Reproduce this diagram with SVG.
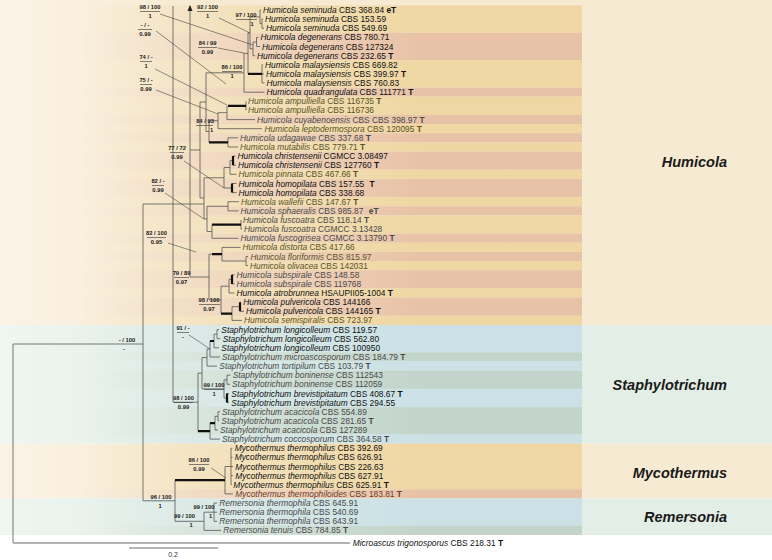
<svg xmlns="http://www.w3.org/2000/svg" width="772" height="560" viewBox="0 0 772 560">
<defs>
<linearGradient id="gY" gradientUnits="userSpaceOnUse" x1="80" y1="0" x2="420" y2="0"><stop offset="0" stop-color="#efd7a3" stop-opacity="0"/><stop offset="1" stop-color="#efd7a3"/></linearGradient>
<linearGradient id="gS" gradientUnits="userSpaceOnUse" x1="80" y1="0" x2="420" y2="0"><stop offset="0" stop-color="#e8c2a7" stop-opacity="0"/><stop offset="1" stop-color="#e8c2a7"/></linearGradient>
<linearGradient id="gB" gradientUnits="userSpaceOnUse" x1="80" y1="0" x2="420" y2="0"><stop offset="0" stop-color="#cbe1e6" stop-opacity="0"/><stop offset="1" stop-color="#cbe1e6"/></linearGradient>
<linearGradient id="gG" gradientUnits="userSpaceOnUse" x1="80" y1="0" x2="420" y2="0"><stop offset="0" stop-color="#c2d4cb" stop-opacity="0"/><stop offset="1" stop-color="#c2d4cb"/></linearGradient>
<linearGradient id="fade" gradientUnits="userSpaceOnUse" x1="0" y1="0" x2="200" y2="0"><stop offset="0" stop-color="#fff" stop-opacity="0.45"/><stop offset="1" stop-color="#fff" stop-opacity="0"/></linearGradient>
<marker id="arr" markerUnits="userSpaceOnUse" markerWidth="6" markerHeight="6" refX="5" refY="3" orient="auto"><path d="M0,0.5 L6,3 L0,5.5 z" fill="#222"/></marker>
</defs>
<style>
.t{font-family:"Liberation Sans",Arial,sans-serif;font-size:8.4px}
.i{font-style:italic}
.bd{font-weight:bold}
.k{fill:#111}
.g{fill:#4a4a4a}
.o{fill:#5b5326}
.r{fill:#6a3d30}
.s{font-family:"Liberation Sans",Arial,sans-serif;font-size:5.8px;font-weight:bold;fill:#222;text-anchor:middle}
.b{stroke:#555;stroke-width:0.8;fill:none}
.bk{stroke:#111;stroke-width:2.2;fill:none}
.ld{stroke:#444;stroke-width:0.6;fill:none}
.rule{stroke:#333;stroke-width:0.6}
.clade{font-family:"Liberation Sans",Arial,sans-serif;font-size:14.5px;font-weight:bold;font-style:italic;fill:#1a1a1a;text-anchor:end}
</style>

<g id="background">
<rect x="0" y="0" width="772" height="560" fill="#ffffff"/>
<rect x="0" y="0" width="772" height="325" fill="#f7ead2"/>
<rect x="0" y="325" width="772" height="118.6" fill="#e3eee6"/>
<rect x="0" y="443.6" width="772" height="54.8" fill="#f7ead2"/>
<rect x="0" y="498.4" width="772" height="36.6" fill="#e3eee6"/>
<rect x="0" y="0" width="200" height="535" fill="url(#fade)"/>
</g>

<g id="stripes">
<rect x="0" y="5.4" width="582" height="27.4" fill="url(#gY)"/>
<rect x="0" y="32.8" width="582" height="27.4" fill="url(#gS)"/>
<rect x="0" y="60.2" width="582" height="27.4" fill="url(#gY)"/>
<rect x="0" y="87.6" width="582" height="9.1" fill="url(#gS)"/>
<rect x="0" y="96.7" width="582" height="18.3" fill="url(#gY)"/>
<rect x="0" y="115.0" width="582" height="9.1" fill="url(#gS)"/>
<rect x="0" y="124.1" width="582" height="9.1" fill="url(#gY)"/>
<rect x="0" y="133.2" width="582" height="9.2" fill="url(#gS)"/>
<rect x="0" y="142.4" width="582" height="9.1" fill="url(#gY)"/>
<rect x="0" y="151.5" width="582" height="18.2" fill="url(#gS)"/>
<rect x="0" y="169.7" width="582" height="9.2" fill="url(#gY)"/>
<rect x="0" y="178.9" width="582" height="18.2" fill="url(#gS)"/>
<rect x="0" y="197.1" width="582" height="9.2" fill="url(#gY)"/>
<rect x="0" y="206.3" width="582" height="9.1" fill="url(#gS)"/>
<rect x="0" y="215.4" width="582" height="18.3" fill="url(#gY)"/>
<rect x="0" y="233.7" width="582" height="9.1" fill="url(#gS)"/>
<rect x="0" y="242.8" width="582" height="9.1" fill="url(#gY)"/>
<rect x="0" y="251.9" width="582" height="9.1" fill="url(#gS)"/>
<rect x="0" y="261.0" width="582" height="9.2" fill="url(#gY)"/>
<rect x="0" y="270.2" width="582" height="18.2" fill="url(#gS)"/>
<rect x="0" y="288.4" width="582" height="9.2" fill="url(#gY)"/>
<rect x="0" y="297.6" width="582" height="18.2" fill="url(#gS)"/>
<rect x="0" y="315.8" width="582" height="9.2" fill="url(#gY)"/>
<rect x="0" y="325.0" width="582" height="27.4" fill="url(#gB)"/>
<rect x="0" y="352.4" width="582" height="9.1" fill="url(#gG)"/>
<rect x="0" y="361.5" width="582" height="9.1" fill="url(#gB)"/>
<rect x="0" y="370.6" width="582" height="18.3" fill="url(#gG)"/>
<rect x="0" y="388.9" width="582" height="18.2" fill="url(#gB)"/>
<rect x="0" y="407.1" width="582" height="27.4" fill="url(#gG)"/>
<rect x="0" y="434.5" width="582" height="9.1" fill="url(#gB)"/>
<rect x="0" y="443.6" width="582" height="45.7" fill="url(#gY)"/>
<rect x="0" y="489.3" width="582" height="9.1" fill="url(#gS)"/>
<rect x="0" y="498.4" width="582" height="27.4" fill="url(#gB)"/>
<rect x="0" y="525.8" width="582" height="9.2" fill="url(#gG)"/>
</g>

<g id="connectors">
<path class="b" d="M13,344 V543 M13,344 H143 M143,204 V500.8 M143,204 H204 M143,500.8 H175"/>
<path class="b" d="M173,402.2 V6 M190,277 V6" marker-end="url(#arr)"/>
<path class="b" d="M173,402.2 H198 M190,277 H209 M190,150 H200 M200,102 V198 M200,102 H206 M200,198 H204"/>
<!-- top Humicola -->
<path class="b" d="M262,19.1 V28.3 M262,19.1 H263 M262,28.3 H264 M260,10 V23.7 M260,10 H261 M260,23.7 H262 M256.5,37.4 V46.5 M256.5,37.4 H258.5 M256.5,46.5 H260 M253,42 V55.7 M253,42 H256.5 M253,55.7 H255 M250,16.9 V48.8 M250,16.9 H260 M250,48.8 H253 M262,64.8 V83 M262,64.8 H263 M262,73.9 H264 M262,83 H264.5 M248,32.8 V73.9 M248,32.8 H250 M244,53.4 V92.2 M244,53.4 H248 M244,92.2 H264.5 M206,72.8 V131.5 M206,72.8 H244 M206,131.5 H209"/>
<path class="bk" d="M248,73.9 H262"/>
<path class="b" d="M246,101.3 V110.4 M227,105.9 V119.6 M227,119.6 H255 M218,112.7 V128.7 M218,112.7 H227 M218,128.7 H262 M228,137.8 V147 M228,137.8 H238 M228,147 H238 M209,120.7 V142.4 M209,120.7 H218"/>
<path class="bk" d="M228,105.9 H246 M209,142.4 H228"/>
<!-- middle Humicola -->
<path class="b" d="M233,156.1 H235.5 M233,165.2 H236 M230,160.7 V174.3 M230,160.7 H233 M230,174.3 H236.5 M232,183.5 H236.5 M232,192.6 H236.5 M224,167.5 V188 M224,167.5 H230 M224,188 H232 M228,201.7 V210.9 M228,201.7 H239 M228,210.9 H238.5 M241,220 V229.1 M241,229.1 H242 M212,224.6 V238.3 M212,238.3 H238.5 M207,206.3 V231.5 M207,206.3 H228 M207,231.5 H212 M204,177.8 V218.9 M204,177.8 H224 M204,218.9 H207"/>
<path class="bk" d="M233,156.1 V165.2 M232,183.5 V192.6 M212,224.6 H241"/>
<!-- lower Humicola -->
<path class="b" d="M246,256.5 V265.6 M246,256.5 H248 M246,265.6 H248 M222,247.4 V261 M222,247.4 H240.5 M222,261 H246 M232,274.8 H234.5 M232,283.9 H234.5 M229,279.3 V293 M229,279.3 H232 M229,293 H234.5 M240,302.2 H241 M240,311.3 H244 M232,306.7 V320.4 M232,306.7 H240 M232,320.4 H242 M221,286.2 V313.6 M221,286.2 H229 M209,254.2 V299.9 M209,254.2 H212 M209,299.9 H221"/>
<path class="bk" d="M212,254.2 H222 M232,274.8 V283.9 M240,302.2 V311.3 M221,313.6 H232"/>
<!-- Staphylotrichum -->
<path class="b" d="M217,329.6 V338.7 M217,329.6 H219 M217,338.7 H220.5 M214,334.2 V347.8 M214,334.2 H217 M214,347.8 H219 M210,341 V357 M210,357 H220 M207,349 V366.1 M207,349 H210 M207,366.1 H217 M227,375.2 V384.3 M227,375.2 H230.5 M227,384.3 H230 M227,393.5 H229 M227,402.6 H229 M224,379.8 V398 M224,379.8 H227 M224,398 H227 M202,357.5 V388.9 M202,357.5 H207 M202,388.9 H224 M218,411.7 V420.9 M218,411.7 H220 M218,420.9 H219 M215,416.3 V430 M215,416.3 H218 M215,430 H218 M210,423.2 V439.1 M210,439.1 H220 M198,373.2 V431.1 M198,373.2 H202"/>
<path class="bk" d="M210,341 H214 M227,393.5 V402.6 M210,423.2 H215 M198,431.1 H210"/>
<!-- Mycothermus & Remersonia -->
<path class="b" d="M231,448.2 V484.8 M231,448.2 H232.5 M231,457.4 H232.5 M231,466.5 H233 M231,475.6 H233 M231,484.8 H231.5 M225,466.5 V493.9 M225,466.5 H231 M225,493.9 H233 M175,480.2 V521.3 M175,521.3 H204 M214,503 V521.3 M214,503 H217 M214,512.2 H217 M214,521.3 H217 M204,512.2 V530.4 M204,512.2 H214 M204,530.4 H221"/>
<path class="bk" d="M175,480.2 H225"/>
<path d="M13,543 H350" stroke="#9a9a9a" stroke-width="1.6" fill="none"/>
<path d="M129,548 H218" stroke="#444" stroke-width="0.8"/>
</g>

<g id="support">
<text class="s" x="150" y="9">98 / 100</text><line class="rule" x1="140" y1="11.5" x2="160" y2="11.5"/><text class="s" x="150" y="18">1</text><path class="ld" d="M160,14 L253,45"/>
<text class="s" x="207.5" y="9">92 / 100</text><line class="rule" x1="197" y1="11.5" x2="218" y2="11.5"/><text class="s" x="207.5" y="18">1</text><path class="ld" d="M219,18 L250,33"/>
<text class="s" x="246" y="17">97 / 100</text><line class="rule" x1="236" y1="19.5" x2="257" y2="19.5"/><text class="s" x="252" y="26">1</text>
<text class="s" x="145" y="27">- / -</text><line class="rule" x1="138" y1="29.5" x2="152" y2="29.5"/><text class="s" x="145" y="35.5">0.99</text><path class="ld" d="M156,31 L226,84"/>
<text class="s" x="207.5" y="45">84 / 99</text><line class="rule" x1="198" y1="47.5" x2="217" y2="47.5"/><text class="s" x="207.5" y="54">0.99</text><path class="ld" d="M218,48 L244,53"/>
<text class="s" x="146" y="59">74 / -</text><line class="rule" x1="140" y1="61.5" x2="152" y2="61.5"/><text class="s" x="146" y="68">1</text><path class="ld" d="M155,69 L227,105"/>
<text class="s" x="232" y="69">86 / 100</text><line class="rule" x1="222" y1="71.5" x2="242" y2="71.5"/><text class="s" x="232" y="78">1</text>
<text class="s" x="146" y="82">75 / -</text><line class="rule" x1="140" y1="84.5" x2="152" y2="84.5"/><text class="s" x="146" y="91">0.99</text><path class="ld" d="M156,90 L218,114"/>
<text class="s" x="205" y="123">84 / 93</text><line class="rule" x1="196" y1="125.5" x2="213" y2="125.5"/><text class="s" x="211.5" y="132">1</text>
<text class="s" x="177" y="150">77 / 72</text><line class="rule" x1="170" y1="152.5" x2="184" y2="152.5"/><text class="s" x="177" y="159">0.99</text><path class="ld" d="M184,161 L224,188"/>
<text class="s" x="158" y="183">82 / -</text><line class="rule" x1="152" y1="185.5" x2="164" y2="185.5"/><text class="s" x="158" y="192">0.99</text><path class="ld" d="M165,193 L204,219"/>
<text class="s" x="156.5" y="235">82 / 100</text><line class="rule" x1="147" y1="237.5" x2="166" y2="237.5"/><text class="s" x="156.5" y="244">0.95</text><path class="ld" d="M168,243 L196,252"/>
<text class="s" x="181.5" y="275">79 / 89</text><line class="rule" x1="174" y1="277.5" x2="189" y2="277.5"/><text class="s" x="181.5" y="284">0.97</text>
<text class="s" x="209" y="302">98 / 100</text><line class="rule" x1="199" y1="304.5" x2="220" y2="304.5"/><text class="s" x="209" y="311">0.97</text>
<text class="s" x="183" y="330">91 / -</text><line class="rule" x1="177" y1="332.5" x2="189" y2="332.5"/><text class="s" x="183" y="339">-</text><path class="ld" d="M189,335 L210,349"/>
<text class="s" x="214" y="387">99 / 100</text><line class="rule" x1="204" y1="389.5" x2="224" y2="389.5"/><text class="s" x="214" y="396">1</text>
<text class="s" x="183.5" y="400">98 / 100</text><line class="rule" x1="174" y1="402.5" x2="193" y2="402.5"/><text class="s" x="183.5" y="409">0.99</text>
<text class="s" x="199" y="462">86 / 100</text><line class="rule" x1="189" y1="464.5" x2="209" y2="464.5"/><text class="s" x="199" y="471">0.99</text><path class="ld" d="M211,468 L226,478"/>
<text class="s" x="127" y="342">- / 100</text><text class="s" x="124" y="351">-</text>
<text class="s" x="161" y="499">96 / 100</text><text class="s" x="160" y="508">1</text>
<text class="s" x="204" y="509">99 / 100</text><text class="s" x="210.5" y="518">1</text>
<text class="s" x="184.5" y="518">99 / 100</text><text class="s" x="191" y="527">1</text>
</g>

<g id="taxa" class="t">
<text class="k" x="263" y="13"><tspan class="i">Humicola seminuda</tspan> CBS 368.84 <tspan class="bd">eT</tspan></text>
<text class="k" x="265" y="22.1"><tspan class="i">Humicola seminuda</tspan> CBS 153.59</text>
<text class="k" x="266" y="31.3"><tspan class="i">Humicola seminuda</tspan> CBS 549.69</text>
<text class="k" x="260.5" y="40.4"><tspan class="i">Humicola degenerans</tspan> CBS 780.71</text>
<text class="k" x="262" y="49.5"><tspan class="i">Humicola degenerans</tspan> CBS 127324</text>
<text class="k" x="257" y="58.7"><tspan class="i">Humicola degenerans</tspan> CBS 232.65 <tspan class="bd">T</tspan></text>
<text class="k" x="265" y="67.8"><tspan class="i">Humicola malaysiensis</tspan> CBS 669.82</text>
<text class="k" x="266" y="76.9"><tspan class="i">Humicola malaysiensis</tspan> CBS 399.97 <tspan class="bd">T</tspan></text>
<text class="k" x="266.5" y="86"><tspan class="i">Humicola malaysiensis</tspan> CBS 760.83</text>
<text class="k" x="266.5" y="95.2"><tspan class="i">Humicola quadrangulata</tspan> CBS 111771 <tspan class="bd">T</tspan></text>
<text class="o" x="248" y="104.3"><tspan class="i">Humicola ampulliella</tspan> CBS 116735 <tspan class="bd">T</tspan></text>
<text class="o" x="248" y="113.4"><tspan class="i">Humicola ampulliella</tspan> CBS 116736</text>
<text class="g" x="257" y="122.6"><tspan class="i">Humicola cuyabenoensis</tspan> CBS CBS 398.97 <tspan class="bd">T</tspan></text>
<text class="o" x="264.5" y="131.7"><tspan class="i">Humicola leptodermospora</tspan> CBS 120095 <tspan class="bd">T</tspan></text>
<text class="g" x="240" y="140.8"><tspan class="i">Humicola udagawae</tspan> CBS 337.68 <tspan class="bd">T</tspan></text>
<text class="o" x="240" y="150"><tspan class="i">Humicola mutabilis</tspan> CBS 779.71 <tspan class="bd">T</tspan></text>
<text class="k" x="237.5" y="159.1"><tspan class="i">Humicola christensenii</tspan> CGMCC 3.08497</text>
<text class="k" x="238" y="168.2"><tspan class="i">Humicola christensenii</tspan> CBS 127760 <tspan class="bd">T</tspan></text>
<text class="o" x="238.5" y="177.3"><tspan class="i">Humicola pinnata</tspan> CBS 467.66 <tspan class="bd">T</tspan></text>
<text class="k" x="238.5" y="186.5"><tspan class="i">Humicola homopilata</tspan> CBS 157.55 <tspan class="bd" dx="3">T</tspan></text>
<text class="k" x="238.5" y="195.6"><tspan class="i">Humicola homopilata</tspan> CBS 338.68</text>
<text class="o" x="241" y="204.7"><tspan class="i">Humicola wallefii</tspan> CBS 147.67 <tspan class="bd">T</tspan></text>
<text class="g" x="240.5" y="213.9"><tspan class="i">Humicola sphaeralis</tspan> CBS 985.87 <tspan class="bd" dx="3">eT</tspan></text>
<text class="g" x="243" y="223"><tspan class="i">Humicola fuscoatra</tspan> CBS 118.14 <tspan class="bd">T</tspan></text>
<text class="g" x="244" y="232.1"><tspan class="i">Humicola fuscoatra</tspan> CGMCC 3.13428</text>
<text class="g" x="240.5" y="241.3"><tspan class="i">Humicola fuscogrisea</tspan> CGMCC 3.13790 <tspan class="bd">T</tspan></text>
<text class="o" x="242.5" y="250.4"><tspan class="i">Humicola distorta</tspan> CBS 417.66</text>
<text class="o" x="250.5" y="259.5"><tspan class="i">Humicola floriformis</tspan> CBS 815.97</text>
<text class="o" x="250" y="268.6"><tspan class="i">Humicola olivacea</tspan> CBS 142031</text>
<text class="g" x="236.5" y="277.8"><tspan class="i">Humicola subspirale</tspan> CBS 148.58</text>
<text class="g" x="236.5" y="286.9"><tspan class="i">Humicola subspirale</tspan> CBS 119768</text>
<text class="k" x="236.5" y="296"><tspan class="i">Humicola atrobrunnea</tspan> HSAUPII05-1004 <tspan class="bd">T</tspan></text>
<text class="k" x="243.3" y="305.2"><tspan class="i">Humicola pulvericola</tspan> CBS 144166</text>
<text class="k" x="246" y="314.3"><tspan class="i">Humicola pulvericola</tspan> CBS 144165 <tspan class="bd">T</tspan></text>
<text class="o" x="244" y="323.4"><tspan class="i">Humicola semispiralis</tspan> CBS 723.97</text>
<text class="k" x="221.3" y="332.6"><tspan class="i">Staphylotrichum longicolleum</tspan> CBS 119.57</text>
<text class="k" x="222.7" y="341.7"><tspan class="i">Staphylotrichum longicolleum</tspan> CBS 562.80</text>
<text class="k" x="221.3" y="350.8"><tspan class="i">Staphylotrichum longicolleum</tspan> CBS 100950</text>
<text class="g" x="222" y="360"><tspan class="i">Staphylotrichum microascosporum</tspan> CBS 184.79 <tspan class="bd">T</tspan></text>
<text class="g" x="219.3" y="369.1"><tspan class="i">Staphylotrichum tortipilum</tspan> CBS 103.79 <tspan class="bd">T</tspan></text>
<text class="g" x="232.7" y="378.2"><tspan class="i">Staphylotrichum boninense</tspan> CBS 112543</text>
<text class="g" x="232" y="387.3"><tspan class="i">Staphylotrichum boninense</tspan> CBS 112059</text>
<text class="k" x="231.3" y="396.5"><tspan class="i">Staphylotrichum brevistipitatum</tspan> CBS 408.67 <tspan class="bd">T</tspan></text>
<text class="k" x="231.3" y="405.6"><tspan class="i">Staphylotrichum brevistipitatum</tspan> CBS 294.55</text>
<text class="g" x="222" y="414.7"><tspan class="i">Staphylotrichum acacicola</tspan> CBS 554.89</text>
<text class="g" x="221.3" y="423.9"><tspan class="i">Staphylotrichum acacicola</tspan> CBS 281.65 <tspan class="bd">T</tspan></text>
<text class="g" x="220" y="433"><tspan class="i">Staphylotrichum acacicola</tspan> CBS 127289</text>
<text class="g" x="222" y="442.1"><tspan class="i">Staphylotrichum coccosporum</tspan> CBS 364.58 <tspan class="bd">T</tspan></text>
<text class="k" x="234.7" y="451.2"><tspan class="i">Mycothermus thermophilus</tspan> CBS 392.69</text>
<text class="k" x="234.7" y="460.4"><tspan class="i">Mycothermus thermophilus</tspan> CBS 626.91</text>
<text class="k" x="235.3" y="469.5"><tspan class="i">Mycothermus thermophilus</tspan> CBS 226.63</text>
<text class="k" x="235.3" y="478.6"><tspan class="i">Mycothermus thermophilus</tspan> CBS 627.91</text>
<text class="k" x="233.3" y="487.8"><tspan class="i">Mycothermus thermophilus</tspan> CBS 625.91 <tspan class="bd">T</tspan></text>
<text class="r" x="235.3" y="496.9"><tspan class="i">Mycothermus thermophiloides</tspan> CBS 183.81 <tspan class="bd">T</tspan></text>
<text class="g" x="219.3" y="506"><tspan class="i">Remersonia thermophila</tspan> CBS 645.91</text>
<text class="g" x="219.3" y="515.2"><tspan class="i">Remersonia thermophila</tspan> CBS 540.69</text>
<text class="g" x="219.3" y="524.3"><tspan class="i">Remersonia thermophila</tspan> CBS 643.91</text>
<text class="g" x="223.3" y="533.4"><tspan class="i">Remersonia tenuis</tspan> CBS 784.85 <tspan class="bd">T</tspan></text>
<text class="k" x="352.7" y="546"><tspan class="i">Microascus trigonosporus</tspan> CBS 218.31 <tspan class="bd">T</tspan></text>
<text x="173" y="557" font-family="Liberation Sans, Arial, sans-serif" font-size="7px" fill="#333" text-anchor="middle">0.2</text>
</g>

<g id="clades">
<text class="clade" x="727" y="167">Humicola</text>
<text class="clade" x="727" y="390">Staphylotrichum</text>
<text class="clade" x="727" y="478">Mycothermus</text>
<text class="clade" x="727" y="522">Remersonia</text>
</g>
</svg>
